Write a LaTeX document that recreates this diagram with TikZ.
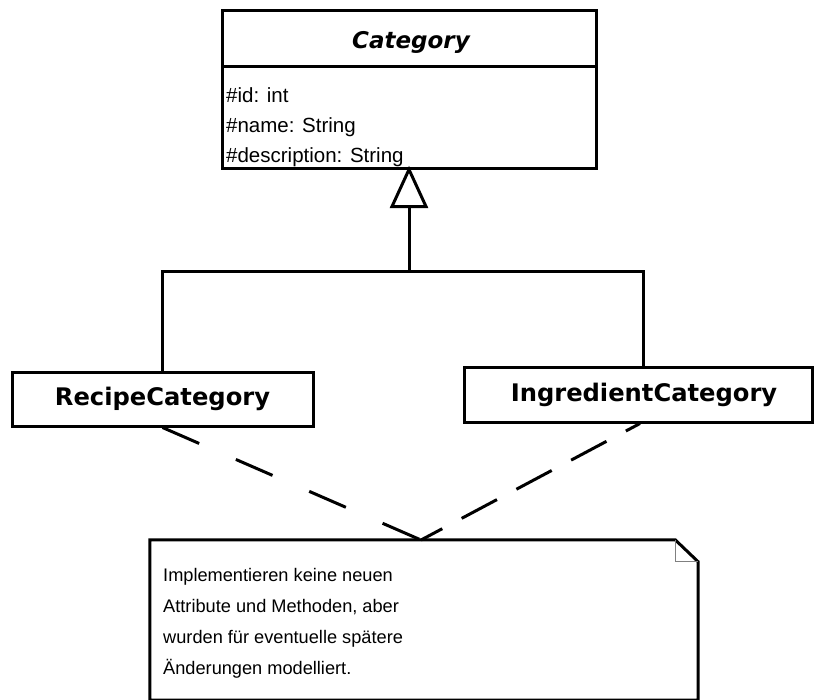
\documentclass[tikz,border=0pt]{standalone}
\usepackage{fontspec}
\usetikzlibrary{calc}
\setmainfont{Liberation Sans}
\newfontfamily\dejavu{DejaVu Sans}
\begin{document}
\begin{tikzpicture}[x=1pt,y=-1pt,
  boxline/.style={draw=black,line width=3pt},
  classbox/.style={boxline,fill=white,inner sep=0pt,font=\dejavu\bfseries\fontsize{24.2}{28}\selectfont},
  attr/.style={anchor=base west,inner sep=0pt,font=\fontsize{20.5}{24}\selectfont},
  notetext/.style={anchor=base west,inner sep=0pt,font=\fontsize{18.2}{24}\selectfont},
  dep/.style={line width=3pt},
  gen/.style={line width=3pt}]
\useasboundingbox (0,0) rectangle (814,699);
% Category class
\node[boxline,minimum width=374pt,minimum height=158pt,inner sep=0pt] (category) at (409,89) {};
\draw[line width=3pt] (222,66) -- (596,66);
\node[anchor=base,inner sep=0pt,font=\dejavu\bfseries\itshape\fontsize{23}{28}\selectfont] (title) at (411,48) {Category};
\node[attr] (a1) at (226,102) {\#id: int};
\node[attr] (a2) at (226,132) {\#name: String};
\node[attr] (a3) at (226,162) {\#description: String};
% subclasses
\node[classbox,minimum width=301pt,minimum height=54pt] (recipe) at (162.5,399) {RecipeCategory};
\node[classbox,minimum width=348pt,minimum height=55pt,text width=348pt,align=center,xshift=0pt] (ingredient) at (638,394.5) {\hspace*{12pt}IngredientCategory};
% generalization
\draw[gen,fill=white,line join=miter] (category.south) -- ++(-17,37) coordinate (tl) -- ++(34,0) -- cycle;
\coordinate (tb) at ($(category.south)+(0,37)$);
\coordinate (j) at ($(category.south)+(0,102)$);
\draw[gen] (tb) -- (j);
\draw[gen] (j) -| (recipe.north);
\draw[gen] (j) -| ([xshift=5pt]ingredient.north);
% note
\node[inner sep=0pt,minimum width=548pt,minimum height=160pt] (note) at (424,620) {};
\draw[boxline,fill=white,line join=miter] (note.south west) -- (note.north west) -- ([xshift=-23pt]note.north east) -- ([yshift=-22pt]note.north east) -- (note.south east) -- cycle;
\draw[gray,line width=1pt] ([xshift=-23pt]note.north east) -- ++(0,22) -- ++(23,0);
\node[notetext] (n1) at (163,581) {Implementieren keine neuen};
\node[notetext] (n2) at (163,612) {Attribute und Methoden, aber};
\node[notetext] (n3) at (163,643) {wurden für eventuelle spätere};
\node[notetext] (n4) at (163,674) {Änderungen modelliert.};
% dependencies
\coordinate (m) at (421,540);
\draw[dep,dash pattern=on 40pt off 40pt] (recipe.south) -- (m);
\draw[dep,dash pattern=on 40pt off 22pt,dash phase=24pt] ([xshift=2pt]ingredient.south) -- (m);
\end{tikzpicture}
\end{document}
